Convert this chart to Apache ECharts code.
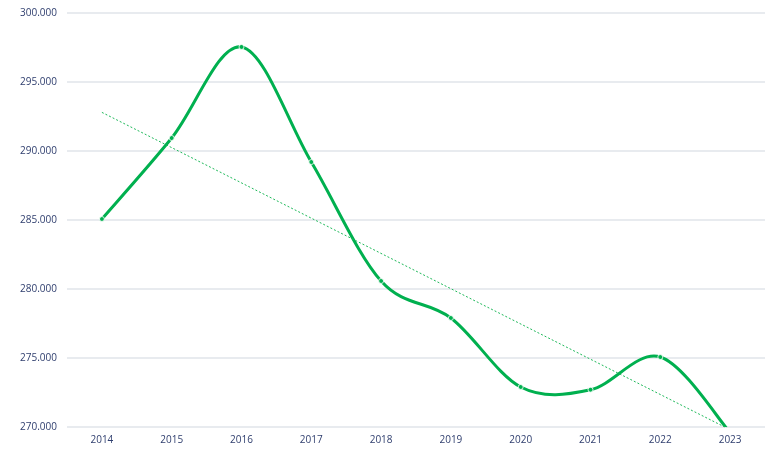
<!DOCTYPE html>
<html>
<head>
<meta charset="utf-8">
<script src="https://cdn.jsdelivr.net/npm/echarts@6/dist/echarts.min.js"></script>
<style>
  html, body { margin: 0; padding: 0; background: #fff; }
  #main { width: 772px; height: 449px; }
</style>
</head>
<body>
<div id="main"></div>
<script>
// data
const years = ['2014', '2015', '2016', '2017', '2018', '2019', '2020', '2021', '2022', '2023'];
const values = [285.07, 290.94, 297.54, 289.2, 280.58, 277.9, 272.9, 272.7, 275.07, 269.6];
// trend line: only the two ends, joined straight
const trend = [292.8, null, null, null, null, null, null, null, null, 269.8];

const green = '#00b04f';

// catmull-rom segment from point i to i+1, through the axis scales
function renderSegment(params, api) {
  const i = params.dataIndex;
  const n = values.length;
  if (i >= n - 1) return null;
  const pt = k => api.coord([Math.max(0, Math.min(n - 1, k)), values[Math.max(0, Math.min(n - 1, k))]]);
  const p0 = pt(i - 1), p1 = pt(i), p2 = pt(i + 1), p3 = pt(i + 2);
  return {
    type: 'bezierCurve',
    shape: {
      x1: p1[0], y1: p1[1],
      x2: p2[0], y2: p2[1],
      cpx1: p1[0] + (p2[0] - p0[0]) / 6, cpy1: p1[1] + (p2[1] - p0[1]) / 6,
      cpx2: p2[0] - (p3[0] - p1[0]) / 6, cpy2: p2[1] - (p3[1] - p1[1]) / 6
    },
    style: { stroke: green, lineWidth: 3, fill: null, lineCap: 'round' }
  };
}

const chart = echarts.init(document.getElementById('main'));
chart.setOption({
  animation: false,
  grid: { left: 67, right: 7, top: 13, bottom: 22 },
  xAxis: {
    type: 'category',
    data: years,
    boundaryGap: true,
    axisLine: { show: false },
    axisTick: { show: false },
    axisLabel: { color: '#2f3e6e', fontSize: 10, fontFamily: 'Open Sans', margin: 8 }
  },
  yAxis: {
    type: 'value',
    min: 270,
    max: 300,
    interval: 5,
    axisLine: { show: false },
    axisTick: { show: false },
    axisLabel: {
      color: '#2f3e6e', fontSize: 10, fontFamily: 'Open Sans', margin: 10,
      formatter: v => v.toFixed(3)
    },
    splitLine: { lineStyle: { color: '#e1e4ea', width: 1.5 } }
  },
  series: [
    {
      type: 'line',
      data: trend,
      connectNulls: true,
      clip: true,
      symbol: 'none',
      lineStyle: { color: '#1fb85a', width: 1, type: [2, 2] }
    },
    {
      type: 'custom',
      data: values.map((v, i) => [i, v]),
      clip: true,
      renderItem: renderSegment
    },
    {
      type: 'scatter',
      data: values,
      clip: true,
      symbol: 'circle',
      symbolSize: 5,
      itemStyle: { color: green, borderColor: '#ffffff', borderWidth: 1 }
    }
  ]
});
window.onresize = function () {
  chart.resize();
};
</script>
</body>
</html>
